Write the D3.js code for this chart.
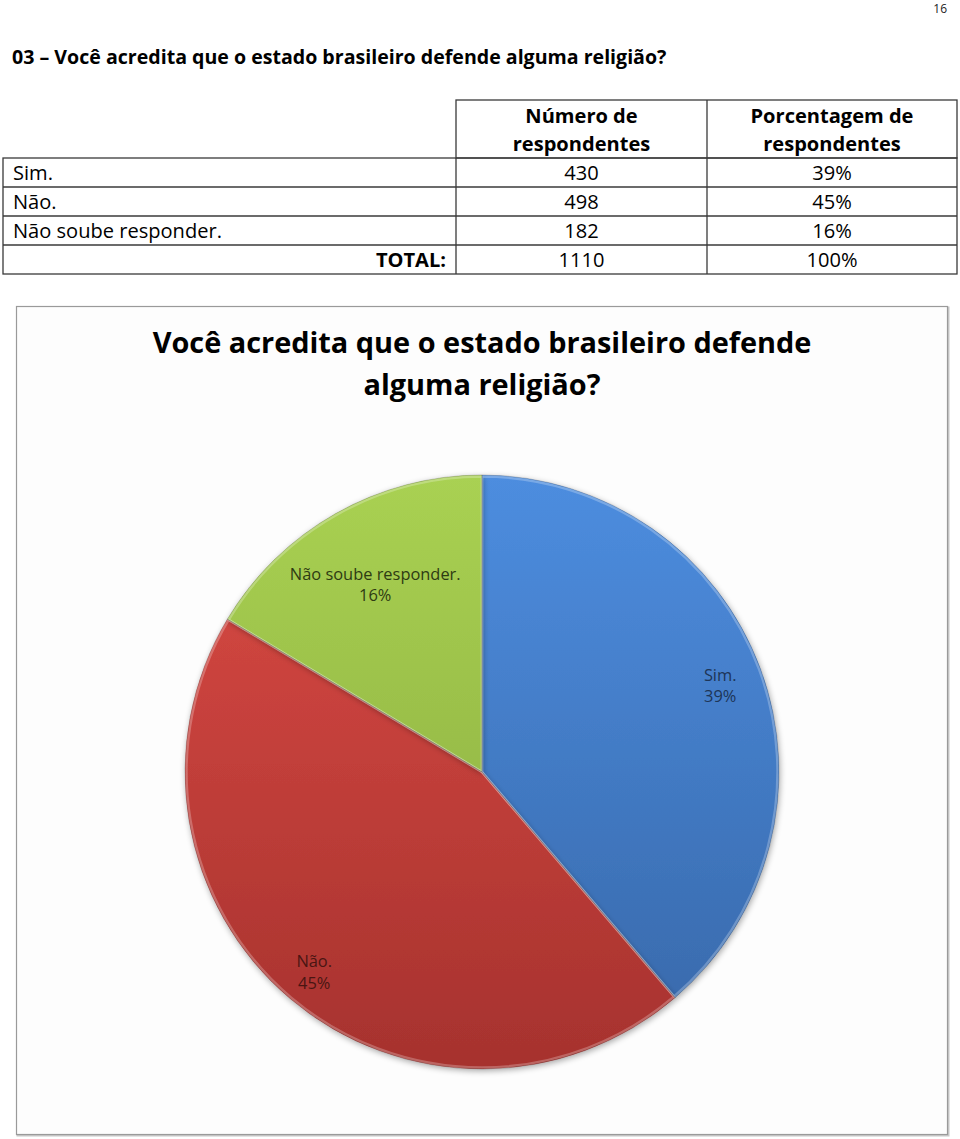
<!DOCTYPE html>
<html><head><meta charset="utf-8">
<script src="https://cdn.jsdelivr.net/npm/d3@7"></script>
<style>
html,body{margin:0;padding:0;background:#fff;}
svg{display:block;}
text{font-family:"Open Sans", Lato, sans-serif;}
</style></head>
<body>
<svg id="c" width="960" height="1139"></svg>
<script>
// ---- data ----
const pageNumber = "16";
const questionTitle = "03 – Você acredita que o estado brasileiro defende alguma religião?";
const tableHeaders = ["Número de|respondentes", "Porcentagem de|respondentes"];
const categories = ["Sim.", "Não.", "Não soube responder."];
const counts = [430, 498, 182];
const percents = ["39%", "45%", "16%"];
const totalLabel = "TOTAL:";
const totalCount = 1110;
const totalPercent = "100%";
const chartTitle = ["Você acredita que o estado brasileiro defende", "alguma religião?"];

// ---- drawing ----
const svg = d3.select("#c");
function fit(sel, target) {
  const w = sel.node().getComputedTextLength();
  const f = +sel.attr("font-size");
  sel.attr("font-size", f * target / w);
}
svg.append("text").attr("x", 947).attr("y", 13).attr("text-anchor", "end")
  .attr("font-size", 12).attr("fill", "#222").text(pageNumber);
const qt = svg.append("text").attr("x", 12).attr("y", 64).attr("font-size", 20)
  .attr("font-weight", "bold").attr("fill", "#000").text(questionTitle);
fit(qt, 655);

// table
const colX = [3, 456, 707, 957];
const rowY = [100, 158, 187, 216, 245, 274];
const tg = svg.append("g").attr("stroke", "#3a3a3a").attr("stroke-width", 1.3).attr("fill", "none");
tg.append("rect").attr("x", colX[1]).attr("y", rowY[0]).attr("width", colX[3]-colX[1]).attr("height", rowY[1]-rowY[0]);
tg.append("line").attr("x1", colX[2]).attr("x2", colX[2]).attr("y1", rowY[0]).attr("y2", rowY[5]);
tg.append("rect").attr("x", colX[0]).attr("y", rowY[1]).attr("width", colX[3]-colX[0]).attr("height", rowY[5]-rowY[1]);
tg.append("line").attr("x1", colX[1]).attr("x2", colX[1]).attr("y1", rowY[1]).attr("y2", rowY[5]);
for (let i = 2; i < 5; i++) tg.append("line").attr("x1", colX[0]).attr("x2", colX[3]).attr("y1", rowY[i]).attr("y2", rowY[i]);

// reference width of "Não soube responder." sets table font size
const probe = svg.append("text").attr("font-size", 20).text(categories[2]);
fit(probe, 209);
const fs = +probe.attr("font-size");
probe.remove();

tableHeaders.forEach((h, j) => {
  const cx = (colX[j+1] + colX[j+2]) / 2;
  h.split("|").forEach((ln, k) => {
    svg.append("text").attr("x", cx).attr("y", 123 + k*28).attr("text-anchor", "middle")
      .attr("font-size", fs).attr("font-weight", "bold").text(ln);
  });
});
categories.forEach((c, i) => {
  const y = rowY[i+1] + 22;
  svg.append("text").attr("x", 13).attr("y", y).attr("font-size", fs).text(c);
  svg.append("text").attr("x", (colX[1]+colX[2])/2).attr("y", y).attr("text-anchor", "middle").attr("font-size", fs).text(counts[i]);
  svg.append("text").attr("x", (colX[2]+colX[3])/2).attr("y", y).attr("text-anchor", "middle").attr("font-size", fs).text(percents[i]);
});
{
  const y = rowY[4] + 22;
  svg.append("text").attr("x", 446).attr("y", y).attr("text-anchor", "end").attr("font-size", fs).attr("font-weight", "bold").text(totalLabel);
  svg.append("text").attr("x", (colX[1]+colX[2])/2).attr("y", y).attr("text-anchor", "middle").attr("font-size", fs).text(totalCount);
  svg.append("text").attr("x", (colX[2]+colX[3])/2).attr("y", y).attr("text-anchor", "middle").attr("font-size", fs).text(totalPercent);
}

// chart box
const defs = svg.append("defs");
svg.append("rect").attr("x", 17.5).attr("y", 307.5).attr("width", 931).attr("height", 828)
  .attr("fill", "none").attr("stroke", "#c8c8c8").attr("stroke-width", 2);
svg.append("rect").attr("x", 16.5).attr("y", 306.5).attr("width", 931).attr("height", 828)
  .attr("fill", "#fdfdfd").attr("stroke", "#9a9a9a").attr("stroke-width", 1.2);

const ct0 = svg.append("text").attr("x", 482).attr("y", 353).attr("text-anchor", "middle")
  .attr("font-size", 29).attr("font-weight", "bold").attr("fill", "#000").text(chartTitle[0]);
fit(ct0, 659);
svg.append("text").attr("x", 482).attr("y", 395).attr("text-anchor", "middle")
  .attr("font-size", ct0.attr("font-size")).attr("font-weight", "bold").attr("fill", "#000").text(chartTitle[1]);

// pie
const cx = 482, cy = 772, R = 297;
const colors = [["#4d8ddf", "#3767a8"], ["#dc4b45", "#a6322e"], ["#a9d152", "#87a83e"]];
const labelColors = ["#1d3557", "#4a1512", "#2e3b12"];
const labelR = [0.855, 0.875, 0.73];
colors.forEach((c, i) => {
  const g = defs.append("linearGradient").attr("id", "g" + i).attr("gradientUnits", "userSpaceOnUse")
    .attr("x1", 0).attr("y1", -R).attr("x2", 0).attr("y2", R);
  g.append("stop").attr("offset", 0).attr("stop-color", c[0]);
  g.append("stop").attr("offset", 1).attr("stop-color", c[1]);
});
const sh = defs.append("filter").attr("id", "sh").attr("x", -0.1).attr("y", -0.1).attr("width", 1.2).attr("height", 1.2);
sh.append("feGaussianBlur").attr("in", "SourceAlpha").attr("stdDeviation", 3);
sh.append("feOffset").attr("dx", 1).attr("dy", 2).attr("result", "b");
sh.append("feComponentTransfer").append("feFuncA").attr("type", "linear").attr("slope", 0.35);
const fm = sh.append("feMerge"); fm.append("feMergeNode"); fm.append("feMergeNode").attr("in", "SourceGraphic");

const pie = d3.pie().sort(null).value(d => d);
const arcs = pie(counts);
const arc = d3.arc().innerRadius(0).outerRadius(R);
const pg = svg.append("g").attr("transform", `translate(${cx},${cy})`);
pg.selectAll("path.s").data(arcs).join("path").attr("class", "s")
  .attr("d", arc).attr("fill", (d, i) => `url(#g${i})`).attr("filter", "url(#sh)");
pg.selectAll("path.e").data(arcs).join("path").attr("class", "e")
  .attr("d", d3.arc().innerRadius(0).outerRadius(R - 1.5))
  .attr("fill", "none").attr("stroke", "rgba(255,255,255,0.25)").attr("stroke-width", 2.5);
pg.selectAll("path.o").data(arcs).join("path").attr("class", "o")
  .attr("d", arc).attr("fill", "none").attr("stroke", "rgba(0,0,0,0.18)").attr("stroke-width", 1);

// label size: "Não soube responder." ~171px wide in the reference
const lp = pg.append("text").attr("font-size", 17).text(categories[2]);
fit(lp, 171);
const lfs = +lp.attr("font-size");
lp.remove();
arcs.forEach((d, i) => {
  const [x, y] = d3.arc().innerRadius(R * labelR[i]).outerRadius(R * labelR[i]).centroid(d);
  const t = pg.append("text").attr("x", x).attr("y", y).attr("text-anchor", "middle")
    .attr("font-size", lfs).attr("fill", labelColors[i]);
  t.append("tspan").attr("x", x).attr("dy", "-0.2em").text(categories[i]);
  t.append("tspan").attr("x", x).attr("dy", "1.3em").text(percents[i]);
});
</script>
</body></html>
